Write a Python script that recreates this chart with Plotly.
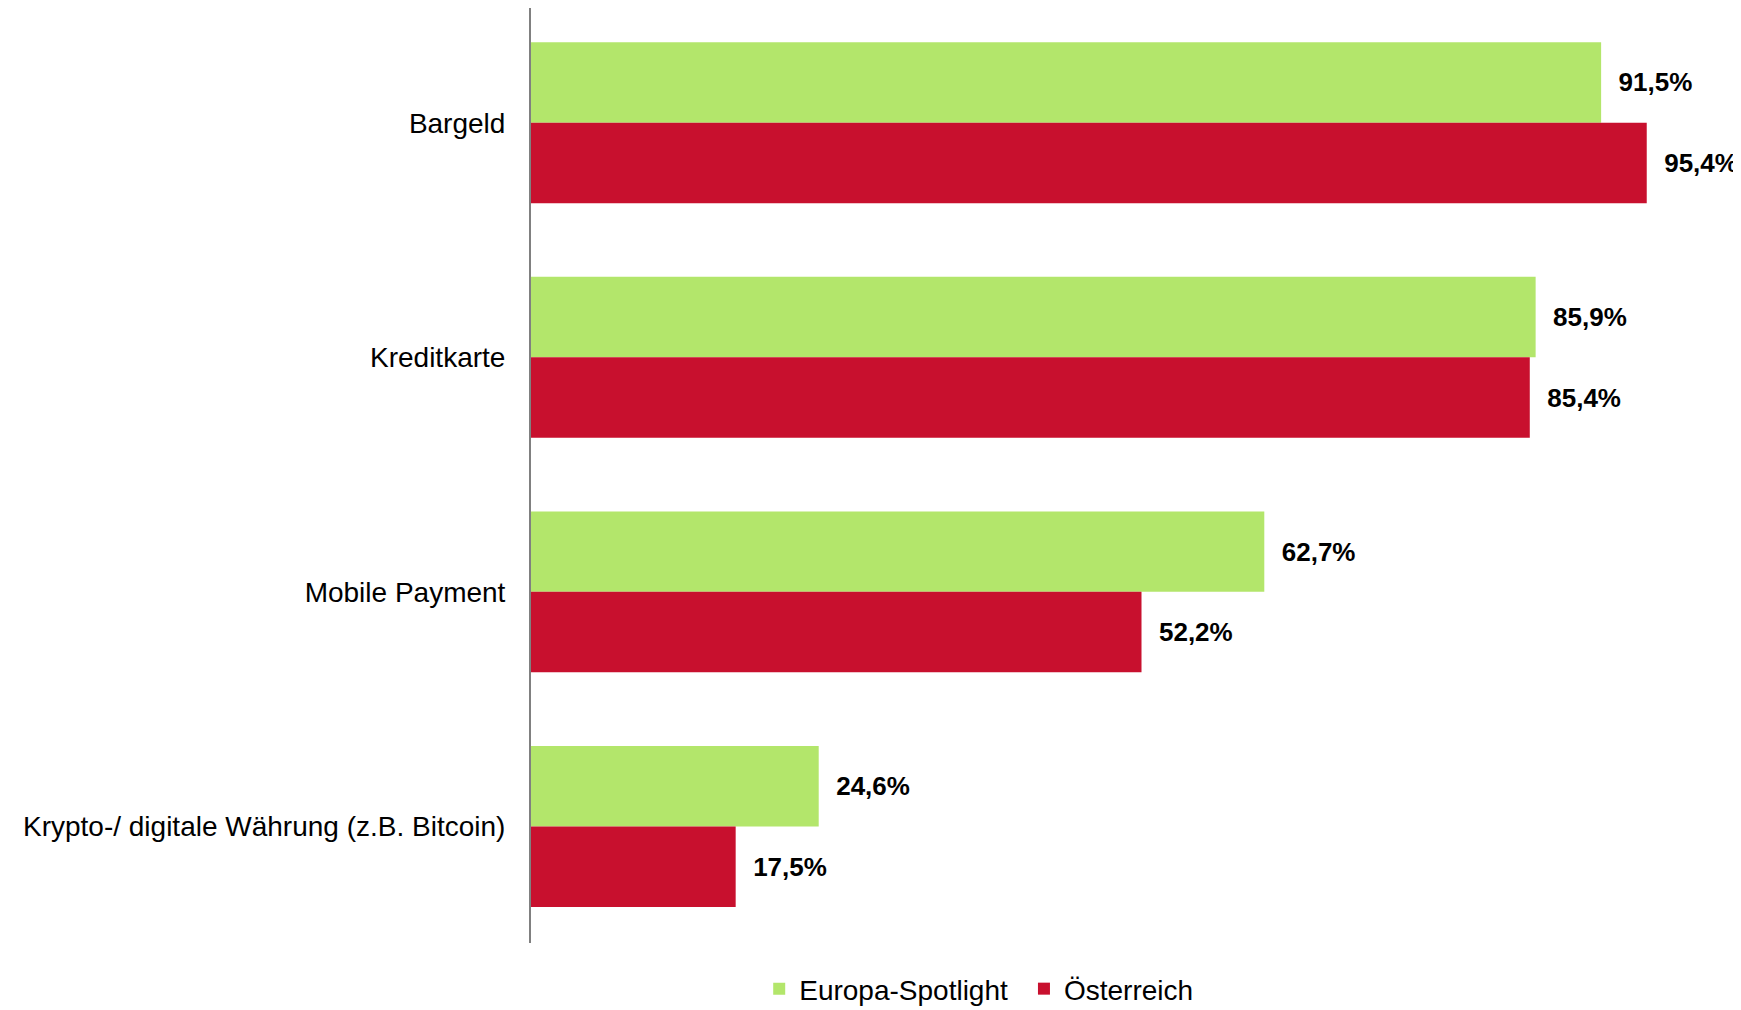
import plotly.graph_objects as go

categories = ["Bargeld", "Kreditkarte", "Mobile Payment", "Krypto-/ digitale Währung (z.B. Bitcoin)"]
europa = [91.5, 85.9, 62.7, 24.6]
oesterreich = [95.4, 85.4, 52.2, 17.5]
series_names = ["Europa-Spotlight", "Österreich"]
colors = ["#b3e66b", "#c8102e"]

def fmt(v):
    return ("%.1f%%" % v).replace(".", ",")

fig = go.Figure()
for i, (name, vals, col) in enumerate(zip(series_names, [europa, oesterreich], colors)):
    fig.add_trace(go.Bar(
        y=categories, x=vals, name=name, orientation="h",
        marker=dict(color=col, line=dict(width=0)),
        text=["\u00a0\u00a0" + fmt(v) for v in vals],
        textposition="outside",
        textfont=dict(family="Liberation Sans, Arial, sans-serif", size=26, color="#000000"),
        texttemplate="<b>%{text}</b>",
        cliponaxis=False,
        constraintext="none",
        legend="legend" if i == 0 else "legend2",
    ))

legend_common = dict(orientation="h", xanchor="left", yref="container", y=0.021,
                     yanchor="middle", font=dict(size=28), itemwidth=30,
                     bgcolor="rgba(0,0,0,0)")

fig.update_layout(
    width=1733, height=1002,
    barmode="group", bargap=0.314, bargroupgap=0,
    plot_bgcolor="white", paper_bgcolor="white",
    margin=dict(l=523, r=0, t=0, b=67, autoexpand=False),
    font=dict(family="Liberation Sans, Arial, sans-serif", size=28, color="#000000"),
    showlegend=True,
    legend=dict(x=0.1886, **legend_common),
    legend2=dict(x=0.4074, **legend_common),
    xaxis=dict(range=[0, 103.46], showgrid=False, zeroline=False, showticklabels=False,
               showline=False, ticks=""),
    yaxis=dict(range=[3.497, -0.489], autorange=False, showgrid=False, zeroline=False,
               showline=True, linecolor="#808080", linewidth=2, ticks="",
               ticklabelstandoff=18),
)

fig.write_html("out.html")
